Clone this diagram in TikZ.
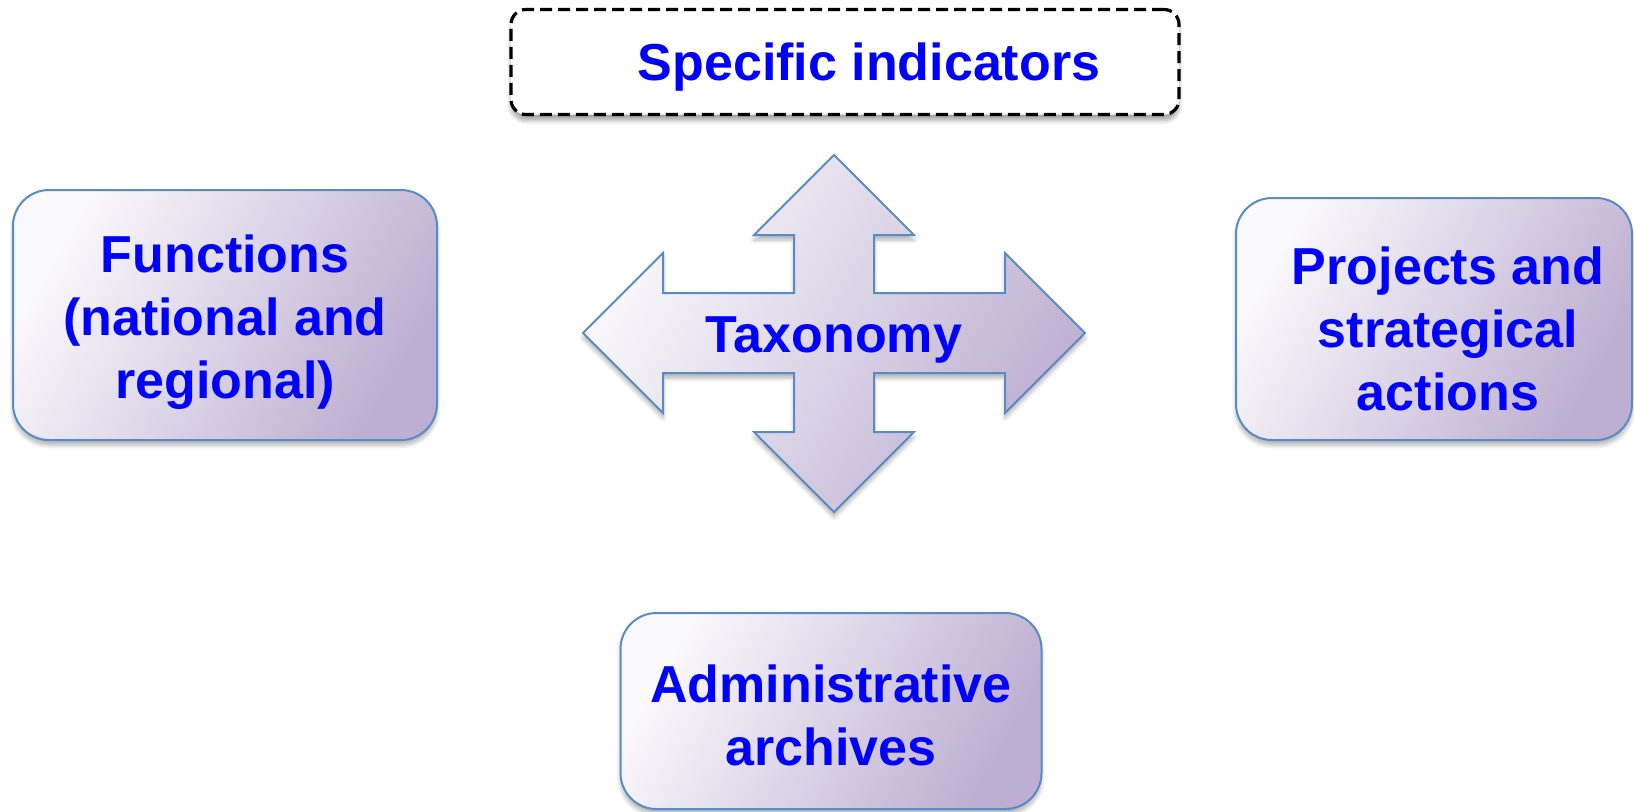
\documentclass[tikz,border=0pt]{standalone}
\usepackage{fontspec}
\setmainfont{Liberation Sans}
\usepackage{xcolor}
\usepackage{tikz}
\usetikzlibrary{shadows.blur}

\definecolor{boxline}{RGB}{88,140,198}
\definecolor{lavlight}{RGB}{250,249,252}
\definecolor{lavdark}{RGB}{189,175,209}

\tikzset{
	lavfill/.style={draw=boxline, line width=1pt, left color=lavlight, right color=lavdark, shading angle=60,
		blur shadow={shadow xshift=0pt, shadow yshift=-2.5pt, shadow opacity=30, shadow blur steps=6}},
	lavbox/.style={lavfill, rounded corners=18pt},
	boxtext/.style={align=center, text=blue, font=\fontsize{26}{31.5}\selectfont\bfseries},
	dashbox/.style={draw=black, fill=white, line width=1.6pt, dash pattern=on 6pt off 3pt, rounded corners=7.5pt,
		blur shadow={shadow xshift=0pt, shadow yshift=-3pt, shadow opacity=35, shadow blur steps=6}}
}

\begin{document}
\begin{tikzpicture}[x=0.5pt, y=-0.5pt]
	\useasboundingbox (0,0) rectangle (1634,811);
	% boxes
	\node[dashbox, minimum width=334pt, minimum height=52.5pt] (specbox) at (845,62) {};
	\node[lavbox, minimum width=212pt, minimum height=125pt] (funcbox) at (225,315) {};
	\node[lavbox, minimum width=198pt, minimum height=121pt] (projbox) at (1434,319) {};
	\node[lavbox, minimum width=210.5pt, minimum height=98pt] (adminbox) at (831,711) {};
	% labels
	\node[boxtext] (spec) at ([xshift=12pt, yshift=-2.5pt]specbox) {Specific indicators};
	\node[boxtext] (func) at ([yshift=-3.5pt]funcbox) {Functions\\(national and\\regional)};
	\node[boxtext] (proj) at ([xshift=7pt, yshift=-5pt]projbox) {Projects and\\strategical\\actions};
	\node[boxtext] (admin) at ([yshift=-2pt]adminbox) {Administrative\\archives};
	% cross arrow
	\coordinate (cc) at (834,333);
	\begin{scope}[shift={(cc)}]
		\path[lavfill] (0,-178) -- (80,-98) -- (40,-98) -- (40,-40) -- (171,-40) -- (171,-80) -- (251,0) -- (171,80) -- (171,40) -- (40,40) -- (40,99) -- (80,99) -- (0,179) -- (-80,99) -- (-40,99) -- (-40,40) -- (-171,40) -- (-171,80) -- (-251,0) -- (-171,-80) -- (-171,-40) -- (-40,-40) -- (-40,-98) -- (-80,-98) -- cycle;
	\end{scope}
	\node[boxtext] (taxo) at ([yshift=-3.5pt]cc) {Taxonomy};
\end{tikzpicture}
\end{document}
